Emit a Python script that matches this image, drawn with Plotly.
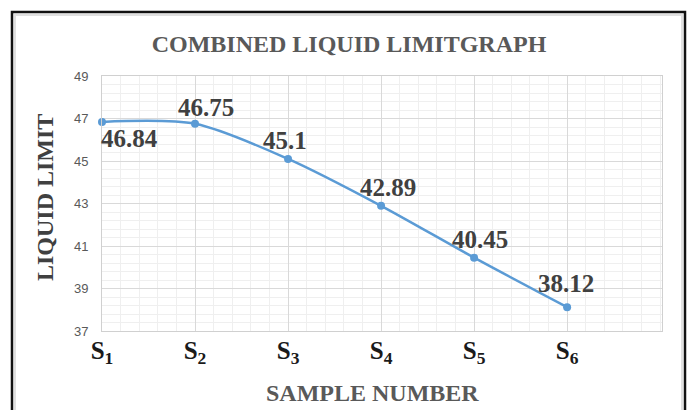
import plotly.graph_objects as go

categories = ["S<sub>1</sub>", "S<sub>2</sub>", "S<sub>3</sub>", "S<sub>4</sub>", "S<sub>5</sub>", "S<sub>6</sub>"]
liquid_limit = [46.84, 46.75, 45.1, 42.89, 40.45, 38.12]
label_text = ["46.84", "46.75", "45.1", "42.89", "40.45", "38.12"]
y_ticks = [37, 39, 41, 43, 45, 47, 49]

# label offsets in pixels (style only)
label_dx = [27, 11, -3, 7, 6, -1]
label_dy = [-17, 16, 18, 18, 18, 24]

W, H = 691, 410
L, R, T, B = 102, 29, 76, 79
PW, PH = W - L - R, H - T - B

def px(x):
    return (x - L) / PW

def py(y):
    return (H - B - y) / PH

xs = list(range(len(categories)))

fig = go.Figure()
fig.add_trace(go.Scatter(
    x=xs, y=liquid_limit,
    mode="lines+markers",
    line=dict(color="#5B9BD5", width=2.5, shape="spline", smoothing=0.8),
    marker=dict(color="#5B9BD5", size=8),
    cliponaxis=False,
    showlegend=False,
))

annotations = [
    dict(text="<b>SAMPLE NUMBER</b>", xref="paper", yref="paper", x=px(372), y=py(393),
         xanchor="center", yanchor="middle", showarrow=False,
         font=dict(family="Liberation Serif", size=24, color="#595959")),
    dict(text="<b>LIQUID LIMIT</b>", xref="paper", yref="paper", x=px(45), y=py(198),
         xanchor="center", yanchor="middle", showarrow=False, textangle=-90,
         font=dict(family="Liberation Serif", size=24, color="#404040")),
]
for xi, yi, t, dx, dy in zip(xs, liquid_limit, label_text, label_dx, label_dy):
    annotations.append(dict(
        text="<b>%s</b>" % t, x=xi, y=yi, xref="x", yref="y",
        xanchor="center", yanchor="middle", showarrow=False,
        xshift=dx, yshift=dy,
        font=dict(family="Liberation Serif", size=25, color="#404040"),
    ))

fig.update_layout(
    width=W, height=H,
    margin=dict(l=L, r=R, t=T, b=B),
    paper_bgcolor="white", plot_bgcolor="white",
    title=dict(text="<b>COMBINED LIQUID LIMITGRAPH</b>", x=349 / W, xanchor="center",
               y=1 - 44 / H, yanchor="middle",
               font=dict(family="Liberation Serif", size=24, color="#595959")),
    xaxis=dict(
        range=[0, 6.02], tickmode="array", tickvals=xs, ticktext=categories,
        tickfont=dict(family="Liberation Serif", size=25, color="#1a1a1a", weight="bold"),
        showgrid=True, gridcolor="#d9d9d9", gridwidth=1,
        minor=dict(dtick=0.2, tick0=0, showgrid=True, gridcolor="#efefef", gridwidth=1),
        showline=True, linecolor="#d0d0d0", linewidth=1, mirror=True,
        ticks="", ticklabelstandoff=-3,
        zeroline=False, fixedrange=True,
    ),
    yaxis=dict(
        range=[37, 49], tickmode="array", tickvals=y_ticks,
        tickfont=dict(family="Liberation Sans", size=13, color="#595959"),
        showgrid=True, gridcolor="#d9d9d9", gridwidth=1,
        minor=dict(dtick=0.4, tick0=37, showgrid=True, gridcolor="#efefef", gridwidth=1),
        showline=True, linecolor="#d0d0d0", linewidth=1, mirror=True,
        ticks="outside", ticklen=10, tickcolor="rgba(0,0,0,0)",
        zeroline=False, fixedrange=True,
    ),
    annotations=annotations,
    shapes=[
        dict(type="rect", xref="paper", yref="paper", x0=px(15), x1=px(682), y0=py(420), y1=py(15),
             line=dict(color="#e0e0e0", width=2)),
        dict(type="rect", xref="paper", yref="paper", x0=px(12), x1=px(685), y0=py(420), y1=py(12),
             line=dict(color="#111111", width=2.5)),
    ],
)

fig.write_html("out.html")
